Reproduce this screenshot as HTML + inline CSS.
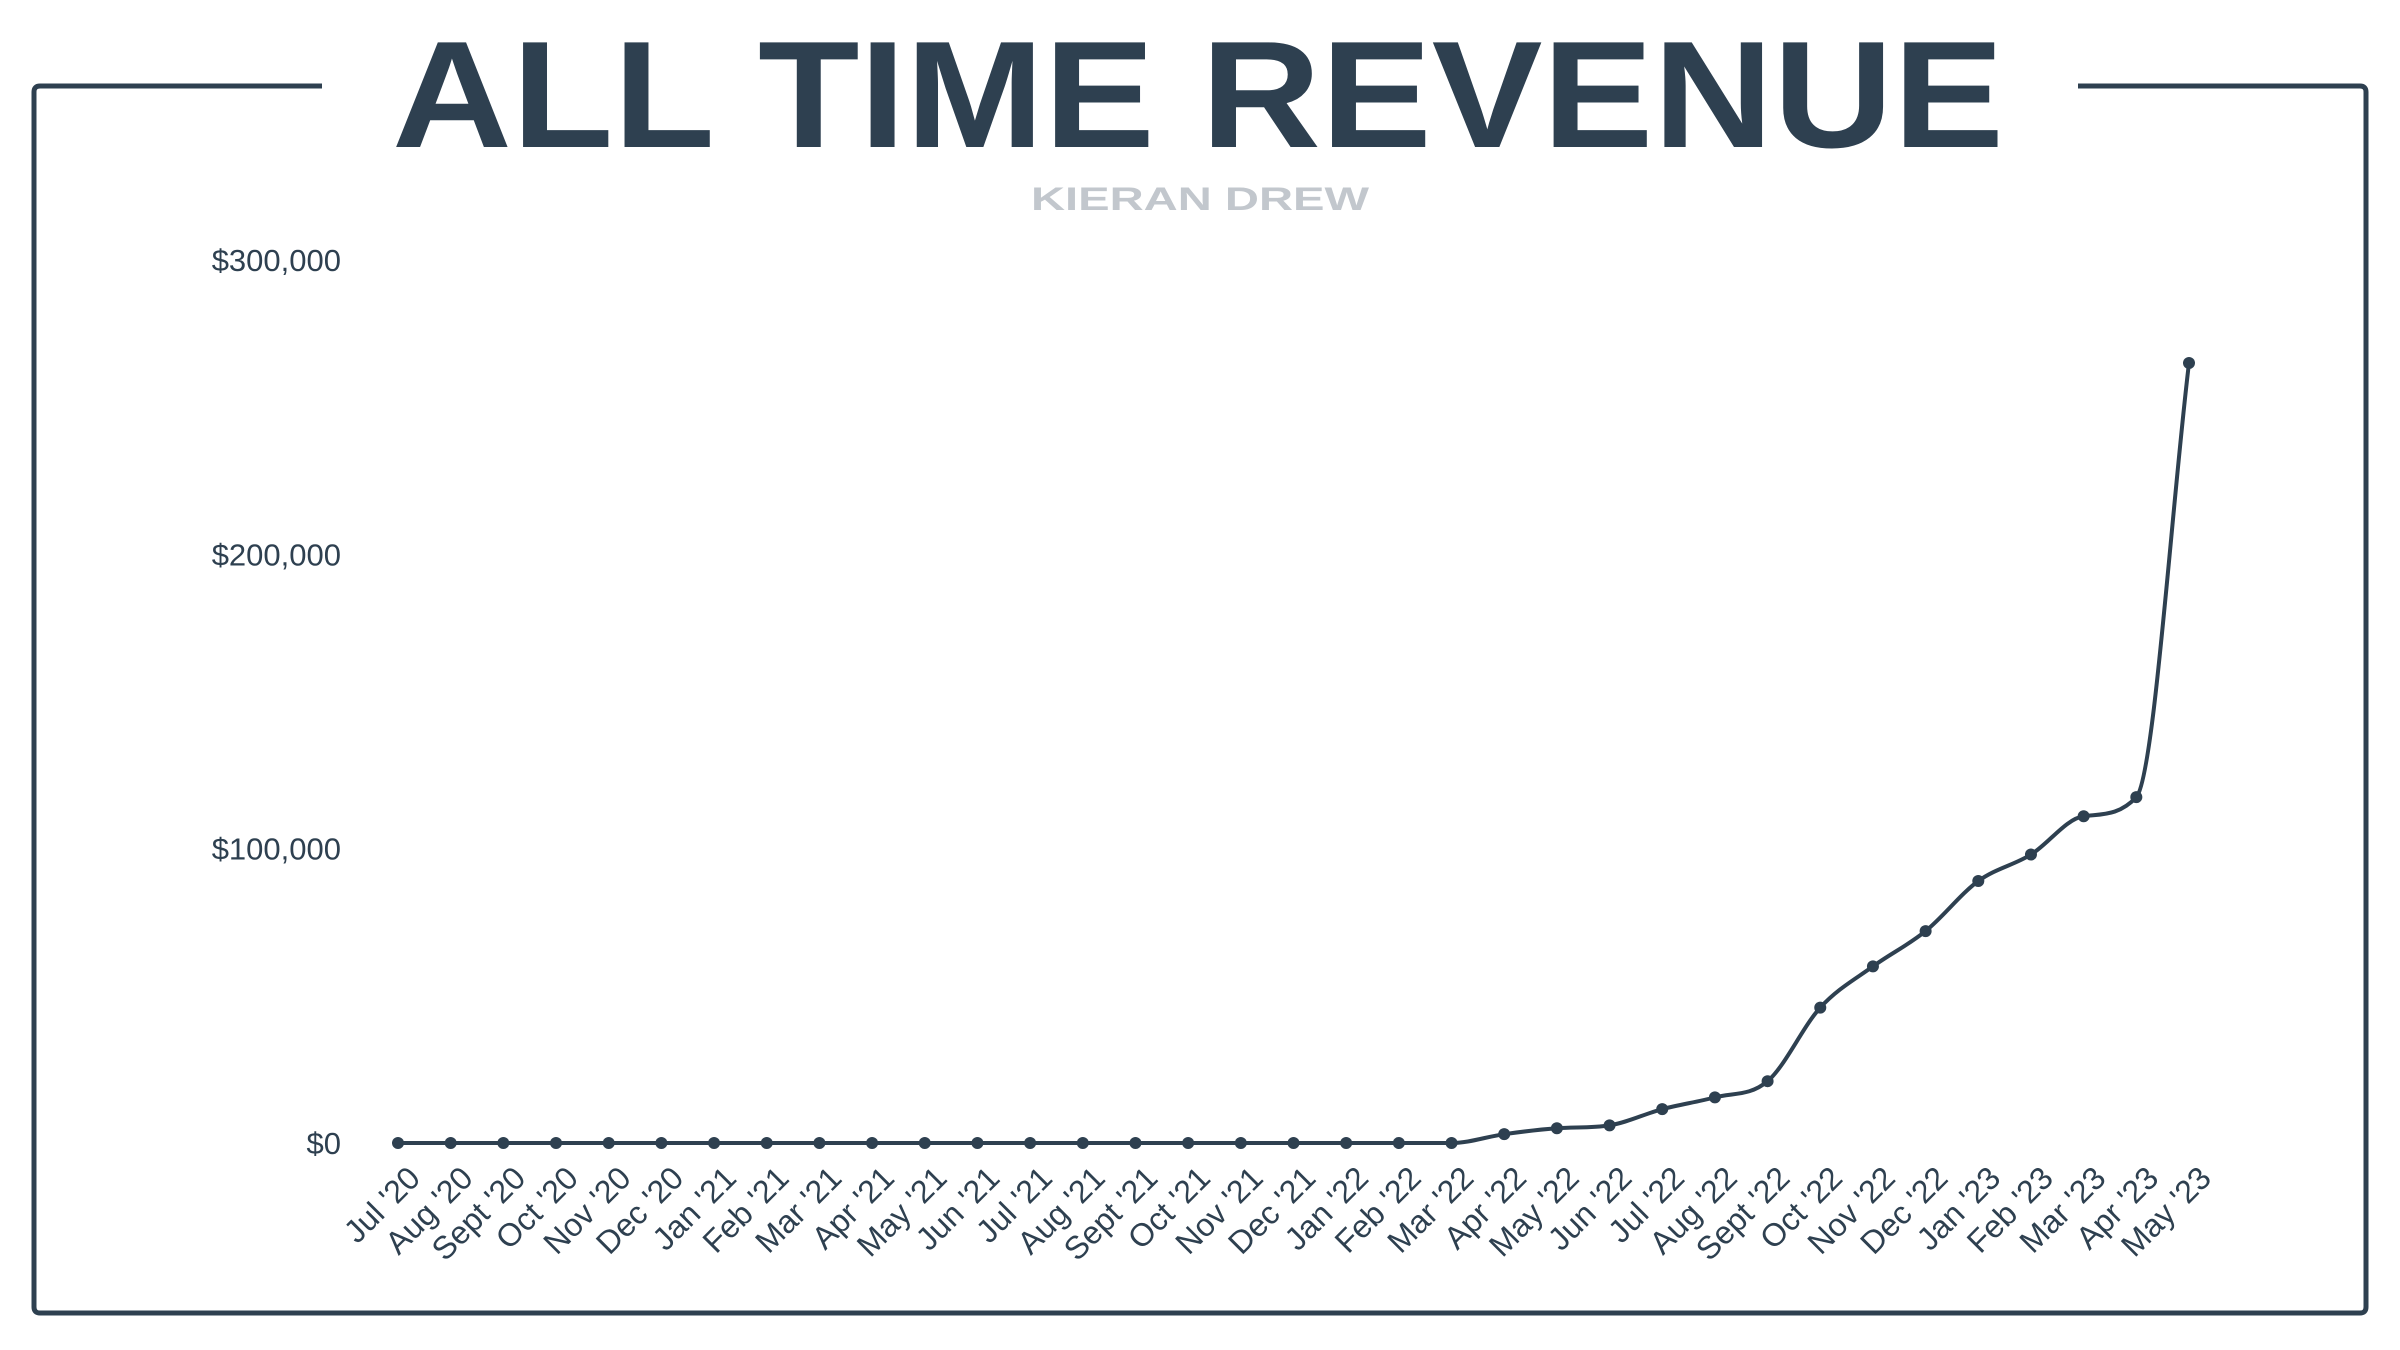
<!DOCTYPE html>
<html><head><meta charset="utf-8">
<style>
html,body{margin:0;padding:0;background:#fff;}
svg{display:block;}
text{font-family:"Liberation Sans",sans-serif;}
</style></head>
<body>
<svg id="chart" width="2400" height="1350" viewBox="0 0 2400 1350">
  <path d="M322 86 H40 Q34 86 34 92 V1307 Q34 1313 40 1313 H2360 Q2366 1313 2366 1307 V92 Q2366 86 2360 86 H2078" fill="none" stroke="#2e4050" stroke-width="5"/>
  <text x="1198" y="147" text-anchor="middle" font-size="152" font-weight="bold" fill="#2e4050" textLength="1612" lengthAdjust="spacingAndGlyphs">ALL TIME REVENUE</text>
  <text x="1200" y="210" text-anchor="middle" font-size="32" font-weight="bold" fill="#c2c7cd" textLength="338" lengthAdjust="spacingAndGlyphs">KIERAN DREW</text>
  <g id="yaxis"></g>
  <g id="xaxis"></g>
  <g id="series"></g>
</svg>
<script>
const categories = ["Jul '20","Aug '20","Sept '20","Oct '20","Nov '20","Dec '20","Jan '21","Feb '21","Mar '21","Apr '21","May '21","Jun '21","Jul '21","Aug '21","Sept '21","Oct '21","Nov '21","Dec '21","Jan '22","Feb '22","Mar '22","Apr '22","May '22","Jun '22","Jul '22","Aug '22","Sept '22","Oct '22","Nov '22","Dec '22","Jan '23","Feb '23","Mar '23","Apr '23","May '23"];
const revenue = [0,0,0,0,0,0,0,0,0,0,0,0,0,0,0,0,0,0,0,0,0,3000,5000,6000,11500,15500,21000,46000,60000,72000,89000,98000,111000,117500,265000];
const yTicks = [0,100000,200000,300000];
const yTickLabels = ["$0","$100,000","$200,000","$300,000"];

const NS = "http://www.w3.org/2000/svg";
const X0 = 398, X1 = 2189, Y0 = 1143, Y1 = 260, YMAX = 300000;
function xScale(i){ return X0 + (X1 - X0) * i / (categories.length - 1); }
function yScale(v){ return Y0 - (Y0 - Y1) * v / YMAX; }
const color = "#2e4050";

const yg = document.getElementById('yaxis');
yTicks.forEach((t, k) => {
  const el = document.createElementNS(NS, 'text');
  
  
  el.setAttribute('x', 341);
  el.setAttribute('y', yScale(t) + 11);
  el.setAttribute('text-anchor', 'end');
  el.setAttribute('font-size', '31');
  el.setAttribute('fill', color);
  el.textContent = yTickLabels[k];
  yg.appendChild(el);
});

const xg = document.getElementById('xaxis');
categories.forEach((c, i) => {
  const el = document.createElementNS(NS, 'text');
  
  
  const x = xScale(i) + 24, y = 1180;
  el.setAttribute('x', x);
  el.setAttribute('y', y);
  el.setAttribute('text-anchor', 'end');
  el.setAttribute('font-size', '32');
  el.setAttribute('fill', color);
  el.setAttribute('transform', `rotate(-45 ${x} ${y})`);
  el.textContent = c;
  xg.appendChild(el);
});

const pts = revenue.map((v, i) => [xScale(i), yScale(v)]);
const n = pts.length;
const d = [], m = [];
for (let i = 0; i < n - 1; i++) d.push((pts[i+1][1] - pts[i][1]) / (pts[i+1][0] - pts[i][0]));
m.push(d[0]);
for (let i = 1; i < n - 1; i++) m.push(d[i-1] * d[i] <= 0 ? 0 : (d[i-1] + d[i]) / 2);
m.push(d[n-2]);
for (let i = 0; i < n - 1; i++) {
  if (d[i] === 0) { m[i] = 0; m[i+1] = 0; continue; }
  const a = m[i] / d[i], b = m[i+1] / d[i], s = a*a + b*b;
  if (s > 9) { const t = 3 / Math.sqrt(s); m[i] = t*a*d[i]; m[i+1] = t*b*d[i]; }
}
let p = `M${pts[0][0]},${pts[0][1]}`;
for (let i = 0; i < n - 1; i++) {
  const h = (pts[i+1][0] - pts[i][0]) / 3;
  p += ` C${pts[i][0]+h},${pts[i][1]+m[i]*h} ${pts[i+1][0]-h},${pts[i+1][1]-m[i+1]*h} ${pts[i+1][0]},${pts[i+1][1]}`;
}
const sg = document.getElementById('series');
const line = document.createElementNS(NS, 'path');


line.setAttribute('d', p);
line.setAttribute('fill', 'none');
line.setAttribute('stroke', color);
line.setAttribute('stroke-width', '4');
sg.appendChild(line);
pts.forEach(pt => {
  const c = document.createElementNS(NS, 'circle');
  
  
  c.setAttribute('cx', pt[0]);
  c.setAttribute('cy', pt[1]);
  c.setAttribute('r', '6');
  c.setAttribute('fill', color);
  sg.appendChild(c);
});
</script>
</body></html>
